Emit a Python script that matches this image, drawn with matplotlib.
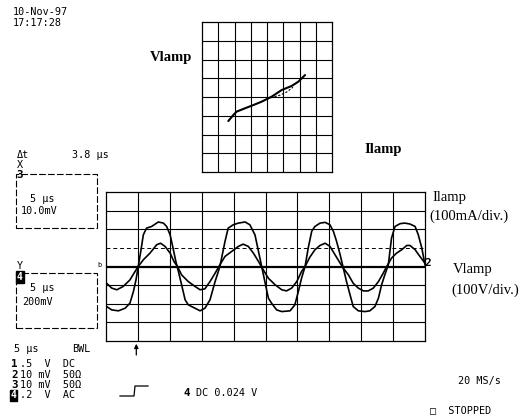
import matplotlib
matplotlib.use("Agg")
import matplotlib.pyplot as plt
from matplotlib.patches import Rectangle
from matplotlib.lines import Line2D

# Ilamp trace (large), x in divisions (5 us/div), y in divisions
ilamp_x = [0.02, 0.18, 0.39, 0.60, 0.75, 0.86, 0.94, 1.01, 1.09, 1.17, 1.27, 1.43, 1.64, 1.80, 1.90,
           2.01, 2.09, 2.19, 2.27, 2.37, 2.48, 2.58, 2.79, 2.95, 3.10, 3.26, 3.42, 3.57, 3.73, 3.83,
           3.99, 4.15, 4.36, 4.51, 4.67, 4.78, 4.88, 4.98, 5.09, 5.19, 5.35, 5.51, 5.77, 5.92, 6.03,
           6.13, 6.24, 6.34, 6.45, 6.55, 6.71, 6.87, 7.02, 7.13, 7.23, 7.34, 7.44, 7.54, 7.65, 7.75,
           7.91, 8.12, 8.27, 8.43, 8.54, 8.64, 8.74, 8.85, 8.95, 9.06, 9.22, 9.37, 9.53, 9.69, 9.79,
           9.90, 10.0]
ilamp_y = [-2.15, -2.33, -2.38, -2.24, -1.97, -1.34, -0.72, 0.0, 0.81, 1.70, 2.06, 2.15, 2.39, 2.33, 2.15,
           1.70, 1.08, 0.27, -0.27, -0.98, -1.79, -2.06, -2.24, -2.38, -2.24, -1.79, -0.81, 0.0, 1.34, 2.06,
           2.24, 2.33, 2.39, 2.24, 1.70, 0.81, 0.0, -0.81, -1.70, -1.97, -2.33, -2.42, -2.38, -2.06, -1.34,
           -0.63, 0.0, 1.0, 1.9, 2.15, 2.33, 2.37, 2.24, 1.88, 1.34, 0.63, -0.09, -0.81, -1.52, -2.15,
           -2.38, -2.42, -2.38, -2.15, -1.70, -0.98, -0.45, 0.09, 1.52, 2.15, 2.30, 2.33, 2.28, 2.15, 1.70,
           0.99, 0.09]

# Vlamp trace (small)
vlamp_x = [0.02, 0.18, 0.34, 0.54, 0.75, 0.91, 1.01, 1.17, 1.38, 1.59, 1.71, 1.85, 2.01, 2.13, 2.24,
           2.37, 2.58, 2.79, 2.95, 3.10, 3.26, 3.42, 3.57, 3.73, 3.94, 4.15, 4.30, 4.46, 4.62, 4.78,
           4.93, 5.09, 5.30, 5.51, 5.66, 5.82, 5.98, 6.13, 6.24, 6.39, 6.55, 6.71, 6.87, 7.02, 7.18,
           7.34, 7.44, 7.60, 7.75, 7.91, 8.07, 8.22, 8.38, 8.54, 8.69, 8.80, 8.95, 9.11, 9.27, 9.43,
           9.53, 9.69, 9.84, 10.0]
vlamp_y = [-0.90, -1.16, -1.25, -1.07, -0.72, -0.27, 0.0, 0.36, 0.72, 1.17, 1.25, 1.08, 0.72, 0.27, 0.0,
           -0.45, -0.81, -1.07, -1.25, -1.20, -0.81, -0.36, 0.09, 0.54, 0.81, 1.08, 1.20, 1.08, 0.72, 0.27,
           -0.18, -0.63, -0.98, -1.25, -1.31, -1.16, -0.81, -0.27, 0.0, 0.5, 0.9, 1.13, 1.25, 1.08, 0.63,
           0.18, -0.09, -0.45, -0.90, -1.16, -1.31, -1.31, -1.16, -0.81, -0.36, 0.0, 0.45, 0.72, 0.90, 1.13,
           1.13, 0.90, 0.54, 0.18]

# XY mode (Ilamp on X, Vlamp on Y)
xy_i = [-2.38, -2.07, -1.87, -1.35, -0.84, -0.33, 0.29, 0.90, 1.52, 1.93, 2.34]
xy_v = [-1.28, -0.96, -0.78, -0.60, -0.43, -0.25, 0.02, 0.37, 0.59, 0.82, 1.17]
xy_i2 = [0.0, 0.4, 0.8, 1.2, 1.6]
xy_v2 = [-0.10, 0.0, 0.10, 0.26, 0.52]

W, H = 528, 420
mono = "DejaVu Sans Mono"
serif = "Liberation Serif"


def fx(x):
    return x / W


def fy(y):
    return 1 - y / H


fig = plt.figure(figsize=(W / 100, H / 100), dpi=100)


def txt(x, y, s, size=7.3, family=mono, **kw):
    fig.text(fx(x), fy(y), s, fontsize=size, family=family, va="center", ha="left", **kw)


# main scope screen
ax = fig.add_axes([fx(106), fy(341), fx(425) - fx(106), fy(192) - fy(341)])
ax.set_xlim(0, 10)
ax.set_ylim(-4, 4)
for v in range(1, 10):
    ax.axvline(v, color="black", lw=0.8)
for h in [-3, -2, -1, 2, 3]:
    ax.axhline(h, color="black", lw=0.8)
ax.axhline(1, color="black", lw=0.7, ls=(0, (4, 3)))
ax.axhline(0, color="black", lw=1.6)
ax.plot(ilamp_x, ilamp_y, color="black", lw=1.2)
ax.plot(vlamp_x, vlamp_y, color="black", lw=1.2)
ax.set_xticks([])
ax.set_yticks([])
for s in ax.spines.values():
    s.set_linewidth(0.9)
ax.annotate("", xy=(0.95, -4.0), xytext=(0.95, -4.9), xycoords="data",
            arrowprops=dict(arrowstyle="-|>", color="black", lw=0.9, mutation_scale=6),
            annotation_clip=False)

# XY screen
ax2 = fig.add_axes([fx(202), fy(172), fx(332) - fx(202), fy(22) - fy(172)])
ax2.set_xlim(-4, 4)
ax2.set_ylim(-4, 4)
for v in range(-3, 4):
    ax2.axvline(v, color="black", lw=0.8)
    ax2.axhline(v, color="black", lw=0.8)
ax2.plot(xy_i, xy_v, color="black", lw=1.5, solid_capstyle="round")
ax2.plot(xy_i2, xy_v2, color="black", lw=0.8, ls=(0, (2, 1.5)))
ax2.set_xticks([])
ax2.set_yticks([])
for s in ax2.spines.values():
    s.set_linewidth(0.9)

# serif annotations
txt(150, 57, "Vlamp", size=10.5, family=serif, weight="bold")
txt(364, 150, "Ilamp", size=10.5, family=serif, weight="bold")
txt(432, 198, "Ilamp", size=10.5, family=serif)
txt(429, 216, "(100mA/div.)", size=10.5, family=serif)
txt(453, 269, "Vlamp", size=10.5, family=serif)
txt(451, 290, "(100V/div.)", size=10.5, family=serif)

# scope readouts
txt(13, 12, "10-Nov-97")
txt(13, 23, "17:17:28")
txt(17, 155, "\u0394t")
txt(72, 155, "3.8 \u00b5s")
txt(17, 165, "X")
txt(16, 175, "3", size=7.8, weight="bold")
txt(30, 199, "5 \u00b5s")
txt(21, 211, "10.0mV")
txt(17, 266, "Y")
txt(17, 277, "4", size=7, weight="bold", color="white",
    bbox=dict(facecolor="black", edgecolor="black", pad=0.6))
txt(30, 288, "5 \u00b5s")
txt(22, 302, "200mV")
txt(97, 265, "b", size=5)
txt(424, 263, "2", size=8, weight="bold")

fig.patches.append(Rectangle((fx(16), fy(228)), fx(97) - fx(16), fy(174) - fy(228),
                             transform=fig.transFigure, fill=False, lw=0.8, ls=(0, (6, 2))))
fig.patches.append(Rectangle((fx(16), fy(328)), fx(97) - fx(16), fy(273) - fy(328),
                             transform=fig.transFigure, fill=False, lw=0.8, ls=(0, (6, 2))))

txt(14, 349, "5 \u00b5s")
txt(72, 349, "BWL")
rows = [("1", ".5  V  DC"), ("2", "10 mV  50\u03a9"), ("3", "10 mV  50\u03a9"), ("4", ".2  V  AC")]
for k, (ch, s) in enumerate(rows):
    y = 364 + k * 10.5
    if ch == "4":
        txt(11, y, ch, size=7, weight="bold", color="white",
            bbox=dict(facecolor="black", edgecolor="black", pad=0.4))
    else:
        txt(11, y, ch, size=7.8, weight="bold")
    txt(20, y, s)

fig.lines.append(Line2D([fx(120), fx(134), fx(135), fx(148)], [fy(396), fy(396), fy(386), fy(386)],
                        transform=fig.transFigure, color="black", lw=0.9))
txt(183, 393, "4", size=7.8, weight="bold")
txt(196, 393, "DC 0.024 V")
txt(458, 381, "20 MS/s")
txt(430, 410, "\u25a1  STOPPED")

fig.savefig("out.png", dpi=100)
